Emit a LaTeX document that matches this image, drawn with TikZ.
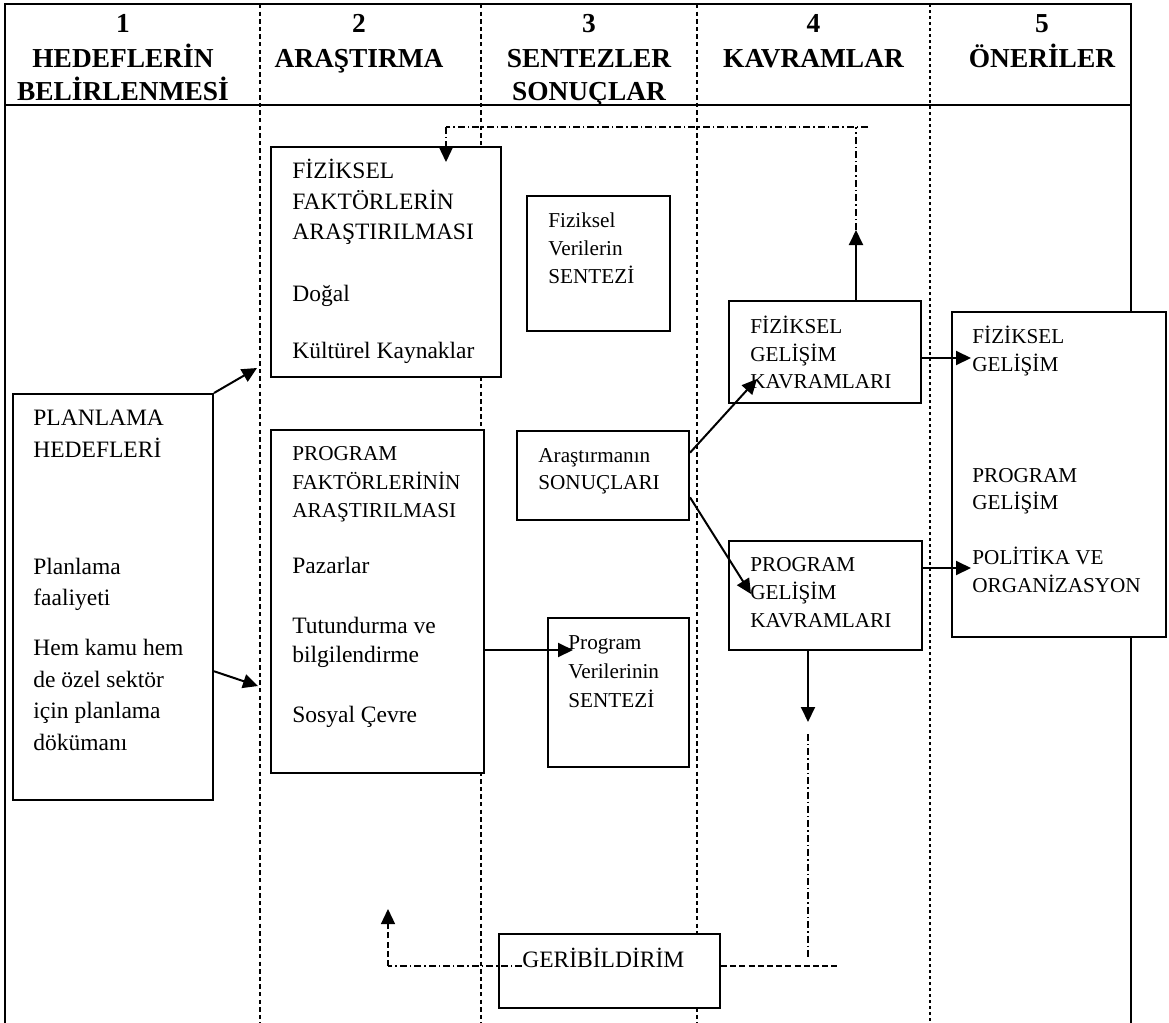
\documentclass[tikz,border=0pt]{standalone}
\usepackage{fontspec}
\setmainfont{Liberation Serif}
\usetikzlibrary{arrows.meta,fit,calc}

\newcommand\fhead{\fontsize{13.7}{17}\selectfont\bfseries}
\newcommand\fbody{\fontsize{11.75}{14}\selectfont}
\newcommand\fnote{\fontsize{10.6}{13}\selectfont}
% one line of text, left-aligned on its baseline
\newcommand\tline[5][txt]{\node[#1] (#2) at (#3,#4) {#5};}

\begin{document}
\begin{tikzpicture}[x=0.5pt,y=-0.5pt,
  rim/.style={line width=1pt},
  lane/.style={line width=0.75pt, dash pattern=on 2.2pt off 1.6pt},
  lanethick/.style={line width=1.4pt, dash pattern=on 1.5pt off 1.5pt},
  box/.style={draw, line width=1pt, fill=white, inner sep=0pt},
  txt/.style={anchor=base west, inner sep=0pt, font=\fbody},
  note/.style={anchor=base west, inner sep=0pt, font=\fnote},
  head/.style={anchor=base, inner sep=0pt, font=\fhead},
  tip/.style={-{Triangle[length=7.5pt,width=7pt]}},
  flow/.style={line width=1pt, tip},
  loop/.style={line width=0.65pt, dash pattern=on 3.5pt off 1.5pt on 0.7pt off 1.5pt},
  loopdash/.style={line width=0.65pt, dash pattern=on 3pt off 1.6pt},
]
\useasboundingbox (0,0) rectangle (1169,1023);

% outer frame and header rule
\draw[rim] (5,1023) -- (5,4) -- (1131,4) -- (1131,1023);
\draw[rim] (5,105) -- (1131,105);

% column separators
\foreach \x in {260,481,697} \draw[lane] (\x,4) -- (\x,1023);
\draw[lanethick] (930,4) -- (930,1023);

% column headings
\node[head] (h1a) at (123,32) {1};
\node[head] (h1b) at (123,67) {HEDEFLERİN};
\node[head] (h1c) at (123,100) {BELİRLENMESİ};
\node[head] (h2a) at (359,32) {2};
\node[head] (h2b) at (359,67) {ARAŞTIRMA};
\node[head] (h3a) at (589,32) {3};
\node[head] (h3b) at (589,67) {SENTEZLER};
\node[head] (h3c) at (589,100) {SONUÇLAR};
\node[head] (h4a) at (813.5,32) {4};
\node[head] (h4b) at (813.5,67) {KAVRAMLAR};
\node[head] (h5a) at (1042,32) {5};
\node[head] (h5b) at (1042,67) {ÖNERİLER};

% boxes
\node[box, fit={(13,394) (213,800)}] (plan) {};
\node[box, fit={(271,147) (501,377)}] (fiz) {};
\node[box, fit={(271,430) (484,773)}] (prog) {};
\node[box, fit={(527,196) (670,331)}] (fver) {};
\node[box, fit={(517,431) (689,520)}] (sonuc) {};
\node[box, fit={(548,618) (689,767)}] (pver) {};
\node[box, fit={(729,301) (921,403)}] (fgk) {};
\node[box, fit={(729,541) (922,650)}] (pgk) {};
\node[box, fit={(952,312) (1166,637)}] (oner) {};
\node[box, fit={(499,934) (720,1008)}] (geri) {};

% box texts
\tline{pl1}{33}{425}{PLANLAMA}
\tline{pl2}{33}{457}{HEDEFLERİ}
\tline{pl3}{33}{574}{Planlama}
\tline{pl4}{33}{605}{faaliyeti}
\tline{pl5}{33}{655}{Hem kamu hem}
\tline{pl6}{33}{687}{de özel sektör}
\tline{pl7}{33}{718}{için planlama}
\tline{pl8}{33}{750}{dökümanı}

\tline{fz1}{292}{178}{FİZİKSEL}
\tline{fz2}{292}{209}{FAKTÖRLERİN}
\tline{fz3}{292}{239}{ARAŞTIRILMASI}
\tline{fz4}{292}{301}{Doğal}
\tline{fz5}{292}{358}{Kültürel Kaynaklar}

\tline[note]{pg1}{292}{460}{PROGRAM}
\tline[note]{pg2}{292}{489}{FAKTÖRLERİNİN}
\tline[note]{pg3}{292}{517}{ARAŞTIRILMASI}
\tline{pg4}{292}{573}{Pazarlar}
\tline{pg5}{292}{633}{Tutundurma ve}
\tline{pg6}{292}{662}{bilgilendirme}
\tline{pg7}{292}{722}{Sosyal Çevre}

\tline[note]{fv1}{548}{227}{Fiziksel}
\tline[note]{fv2}{548}{255}{Verilerin}
\tline[note]{fv3}{548}{283}{SENTEZİ}

\tline[note]{so1}{538}{462}{Araştırmanın}
\tline[note]{so2}{538}{489}{SONUÇLARI}

\tline[note]{pv1}{568}{649}{Program}
\tline[note]{pv2}{568}{678}{Verilerinin}
\tline[note]{pv3}{568}{707}{SENTEZİ}

\tline[note]{fg1}{750}{333}{FİZİKSEL}
\tline[note]{fg2}{750}{361}{GELİŞİM}
\tline[note]{fg3}{750}{388}{KAVRAMLARI}

\tline[note]{pk1}{750}{571}{PROGRAM}
\tline[note]{pk2}{750}{599}{GELİŞİM}
\tline[note]{pk3}{750}{627}{KAVRAMLARI}

\tline[note]{on1}{972}{343}{FİZİKSEL}
\tline[note]{on2}{972}{371}{GELİŞİM}
\tline[note]{on3}{972}{482}{PROGRAM}
\tline[note]{on4}{972}{509}{GELİŞİM}
\tline[note]{on5}{972}{564}{POLİTİKA VE}
\tline[note]{on6}{972}{592}{ORGANİZASYON}

\tline{gtxt}{522}{967}{GERİBİLDİRİM}

% main flow arrows
\coordinate (t1) at (257,368);
\draw[flow] (plan.north east) -- (t1);
\coordinate (t2) at (258,686);
\draw[flow] ($(plan.north east)!0.682!(plan.south east)$) -- (t2);
\coordinate (t3) at (573,650);
\draw[flow] (prog.east |- t3) -- (t3);
\coordinate (t4) at (757,379);
\draw[flow] ($(sonuc.north east)!0.25!(sonuc.south east)$) -- (t4);
\coordinate (t5) at (751,594);
\draw[flow] ($(sonuc.north east)!0.74!(sonuc.south east)$) -- (t5);
\coordinate (t6) at (971,358);
\draw[flow] (fgk.east |- t6) -- (t6);
\coordinate (t7) at (971,568);
\draw[flow] (pgk.east |- t7) -- (t7);

% upper feedback loop
\coordinate (up) at (856,230);
\coordinate (topR) at (868,127);
\coordinate (down) at (446,162);
\draw[flow] (fgk.north -| up) -- (up);
\draw[loop] (up) -- (up |- topR);
\draw[loop] (topR) -- (down |- topR);
\draw[loop, tip] (down |- topR) -- (down);

% lower feedback loop
\coordinate (dn) at (808,722);
\coordinate (bR) at (838,966);
\coordinate (bL) at (388,966);
\coordinate (back) at (388,909);
\draw[flow] (pgk.south -| dn) -- (dn);
\draw[loop] ([yshift=-6pt]dn) -- ([yshift=3pt]dn |- bR);
\draw[loopdash] (geri.east |- bR) -- (bR);
\draw[loop] (gtxt.west |- bR) -- (bL);
\draw[loopdash, tip] (bL) -- (back);
\end{tikzpicture}
\end{document}
